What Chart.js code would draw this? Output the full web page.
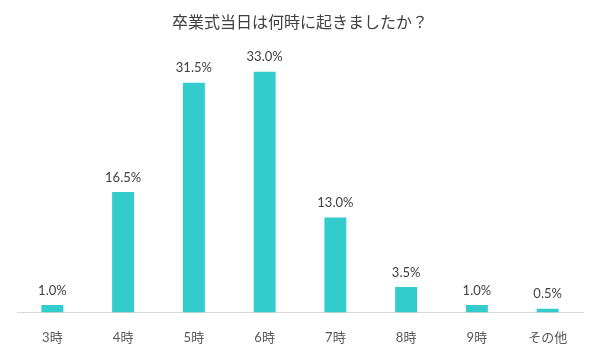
<!DOCTYPE html>
<html>
<head>
<meta charset="utf-8">
<script src="https://cdn.jsdelivr.net/npm/chart.js@4"></script>
<style>
  html, body { margin: 0; padding: 0; background: #fff; }
  #wrap { width: 600px; height: 354px; }
</style>
</head>
<body>
<div id="wrap"><canvas id="myChart"></canvas></div>
<script>
const categories = ['3時', '4時', '5時', '6時', '7時', '8時', '9時', 'その他'];
const values = [1.0, 16.5, 31.5, 33.0, 13.0, 3.5, 1.0, 0.5];
const chartTitle = '卒業式当日は何時に起きましたか？';

const fontFamily = 'Lato, "Noto Sans CJK JP", sans-serif';

// draw the value above each bar
const valueLabels = {
    id: 'valueLabels',
    afterDatasetsDraw(chart) {
        const ctx = chart.ctx;
        const meta = chart.getDatasetMeta(0);
        ctx.save();
        ctx.font = '13px ' + fontFamily;
        ctx.fillStyle = '#404040';
        ctx.textAlign = 'center';
        ctx.textBaseline = 'bottom';
        meta.data.forEach(function (bar, i) {
            ctx.fillText(values[i].toFixed(1) + '%', bar.x, bar.y - 8);
        });
        ctx.restore();
    }
};

const ctx = document.getElementById('myChart');
const myChart = new Chart(ctx, {
    type: 'bar',
    data: {
        labels: categories,
        datasets: [{
            data: values,
            backgroundColor: '#33CCCC',
            categoryPercentage: 1,
            barPercentage: 0.31
        }]
    },
    options: {
        responsive: true,
        maintainAspectRatio: false,
        animation: false,
        layout: {
            padding: { left: 17, right: 17, top: 0, bottom: -10 }
        },
        scales: {
            x: {
                grid: { display: false, drawTicks: false },
                border: { display: true, color: '#d9d9d9', width: 1 },
                ticks: {
                    padding: 18,
                    color: '#595959',
                    font: { size: 13, family: fontFamily }
                }
            },
            y: {
                display: false,
                min: 0,
                max: 35
            }
        },
        plugins: {
            legend: { display: false },
            tooltip: { enabled: false },
            title: {
                display: true,
                text: chartTitle,
                color: '#404040',
                font: { size: 16, weight: 'normal', family: fontFamily },
                padding: { top: 13, bottom: 25 }
            }
        }
    },
    plugins: [valueLabels]
});
</script>
</body>
</html>
